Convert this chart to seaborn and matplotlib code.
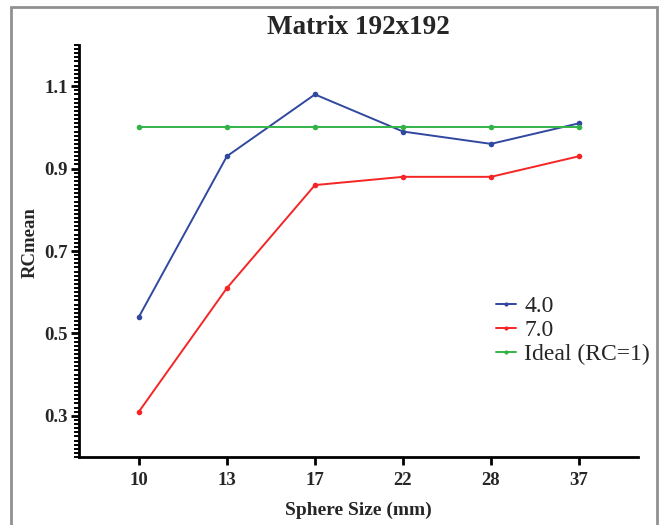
import matplotlib
matplotlib.use("Agg")
import matplotlib.pyplot as plt
import seaborn as sns
import pandas as pd
from matplotlib.ticker import MultipleLocator, FixedLocator
from matplotlib.patches import Rectangle

sizes = ["10", "13", "17", "22", "28", "37"]
rc_40 = [0.54, 0.93, 1.08, 0.99, 0.96, 1.01]
rc_70 = [0.31, 0.61, 0.86, 0.88, 0.88, 0.93]
rc_ideal = [1.0, 1.0, 1.0, 1.0, 1.0, 1.0]
series_names = ["4.0", "7.0", "Ideal (RC=1)"]
yticks = [0.3, 0.5, 0.7, 0.9, 1.1]

rows = []
for name, vals in zip(series_names, [rc_40, rc_70, rc_ideal]):
    for i, (s, v) in enumerate(zip(sizes, vals)):
        rows.append({"pos": i, "size": s, "RC": v, "series": name})
df = pd.DataFrame(rows)

sns.set_theme(style="ticks")
plt.rcParams["font.family"] = ["Liberation Serif", "DejaVu Serif"]

fig = plt.figure(figsize=(6.6, 5.25), dpi=100)
ax = fig.add_axes([79/660, 1-457/525, (638-79)/660, (457-45)/525])

palette = {"4.0": "#3048A0", "7.0": "#F52525", "Ideal (RC=1)": "#33B347"}
sns.lineplot(data=df, x="pos", y="RC", hue="series", palette=palette,
             marker="o", markersize=4, markeredgewidth=0, linewidth=1.4,
             ax=ax, hue_order=series_names)

ax.set_xlim(-0.68, 5.67)
ax.set_ylim(0.2, 1.2)
ax.xaxis.set_major_locator(FixedLocator(range(len(sizes))))
ax.set_xticklabels(sizes)
ax.yaxis.set_major_locator(FixedLocator(yticks))
ax.set_yticklabels([f"{t:.1f}" for t in yticks])
ax.yaxis.set_minor_locator(MultipleLocator(0.01))

for sp in ["top", "right"]:
    ax.spines[sp].set_visible(False)
for sp in ["left", "bottom"]:
    ax.spines[sp].set_linewidth(2.0)
    ax.spines[sp].set_color("black")

ax.tick_params(axis="both", which="major", length=6, width=2.0, color="black",
               labelsize=13.5, pad=2)
ax.tick_params(axis="y", which="minor", length=3.5, width=1.4, color="black")
for lab in ax.get_xticklabels() + ax.get_yticklabels():
    lab.set_fontweight("bold")
ax.tick_params(axis="x", pad=5)

ax.set_xlabel("Sphere Size (mm)", fontsize=14, fontweight="bold", labelpad=9)
ax.set_ylabel("RCmean", fontsize=13.5, fontweight="bold")
ax.yaxis.set_label_coords(-0.072, 0.52)
ax.set_title("Matrix 192x192", fontsize=19.5, fontweight="bold", pad=8)

leg = ax.legend(loc="upper left", bbox_to_anchor=(484/660, 1-284/525),
                bbox_transform=fig.transFigure, frameon=False, fontsize=17,
                handlelength=0.85, handletextpad=0.35, labelspacing=0.1,
                borderpad=0)
for line in leg.get_lines():
    line.set_linewidth(1.4)
    line.set_markersize(3)

fig.patches.append(Rectangle((11/660, -0.1), (657-11)/660, 1.1 - 7/525,
                             transform=fig.transFigure, fill=False,
                             edgecolor="#909090", linewidth=2.0))

fig.savefig("out.png", dpi=100)
